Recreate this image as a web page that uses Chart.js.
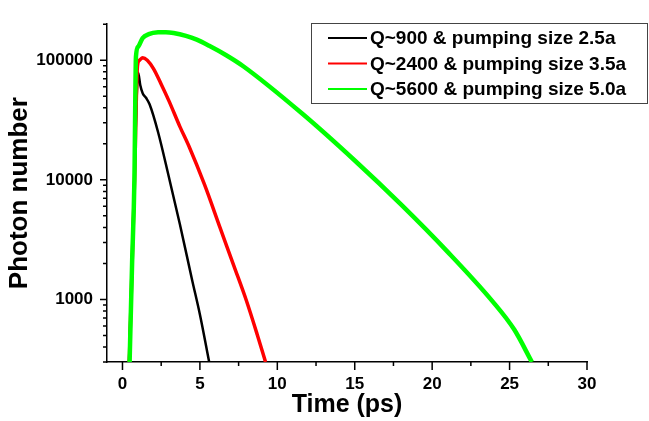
<!DOCTYPE html>
<html>
<head>
<meta charset="utf-8">
<script src="https://cdn.jsdelivr.net/npm/chart.js@4.4.1/dist/chart.umd.min.js"></script>
<style>
  html, body { margin: 0; padding: 0; background: #fff; }
</style>
</head>
<body>
<canvas id="chart" width="649" height="421"></canvas>
<script>
// Photon number vs time, three cavities
const seriesLabels = [
  'Q~900 & pumping size 2.5a',
  'Q~2400 & pumping size 3.5a',
  'Q~5600 & pumping size 5.0a',
];

const q900Time    = [0.42, 0.6, 0.76, 0.92, 1.01, 1.15, 1.31, 1.53, 1.75, 2.3, 3.0, 3.7, 4.5, 5.0, 5.6];
const q900Photons = [300, 1800, 10000, 50000, 79000, 61700, 52700, 48300, 42800, 25000, 10500, 4300, 1450, 750, 300];

const q2400Time    = [0.44, 0.62, 0.78, 0.97, 1.1, 1.3, 1.6, 2.0, 2.5, 3.0, 3.7, 4.3, 5.3, 6.3, 7.2, 8.0, 8.7, 9.24];
const q2400Photons = [300, 1900, 10000, 90000, 100000, 105000, 100000, 85000, 63000, 45700, 28000, 19000, 9100, 3980, 1900, 980, 510, 300];

const q5600Time    = [0.46, 0.62, 0.77, 0.87, 1.02, 1.3, 1.7, 2.3, 2.8, 3.3, 4.1, 4.8, 5.6, 6.7, 7.8, 11.6, 15, 18, 21, 23.9, 25.3, 26.44];
const q5600Photons = [300, 2000, 10000, 107000, 130000, 153000, 165000, 171000, 171500, 169000, 160000, 148500, 132000, 110000, 89000, 35800, 14500, 6200, 2500, 964, 560, 300];

const xTickValues = [0, 2.5, 5, 7.5, 10, 12.5, 15, 17.5, 20, 22.5, 25, 27.5, 30];
const yMajorTicks = [1000, 10000, 100000];
const yTickValues = [300, 400, 500, 600, 700, 800, 900,
  1000, 2000, 3000, 4000, 5000, 6000, 7000, 8000, 9000,
  10000, 20000, 30000, 40000, 50000, 60000, 70000, 80000, 90000,
  100000, 200000];

const toPoints = (ts, vs) => ts.map((t, i) => ({ x: t, y: vs[i] }));

Chart.defaults.font.family = "'Liberation Sans', Arial, sans-serif";
Chart.defaults.color = '#000';

// tick marks pointing outward, minor ones shorter
const tickMarks = {
  id: 'tickMarks',
  afterDraw(chart) {
    const { ctx, chartArea: a, scales: { x, y } } = chart;
    ctx.save();
    ctx.strokeStyle = '#000';
    ctx.lineWidth = 1.5;
    ctx.beginPath();
    x.ticks.forEach(t => {
      const px = x.getPixelForValue(t.value);
      const len = t.value % 5 === 0 ? 8 : 4;
      ctx.moveTo(px, a.bottom);
      ctx.lineTo(px, a.bottom + len);
    });
    y.ticks.forEach(t => {
      const py = y.getPixelForValue(t.value);
      const len = yMajorTicks.includes(t.value) ? 7 : 4;
      ctx.moveTo(a.left, py);
      ctx.lineTo(a.left - len, py);
    });
    ctx.stroke();
    ctx.restore();
  }
};

// boxed legend in the top right corner
const legendBox = {
  id: 'legendBox',
  afterDatasetsDraw(chart) {
    const ctx = chart.ctx;
    const rows = [38, 63.5, 89];
    ctx.save();
    ctx.fillStyle = '#fff';
    ctx.fillRect(311, 23, 337, 80);
    ctx.strokeStyle = '#444';
    ctx.lineWidth = 1;
    ctx.strokeRect(311.5, 23.5, 336, 80);
    ctx.font = "bold 19px 'Liberation Sans', Arial, sans-serif";
    ctx.textBaseline = 'middle';
    ctx.textAlign = 'left';
    chart.data.datasets.forEach((ds, i) => {
      ctx.strokeStyle = ds.borderColor;
      ctx.lineWidth = 1.8;
      ctx.beginPath();
      ctx.moveTo(328, rows[i]);
      ctx.lineTo(367, rows[i]);
      ctx.stroke();
      ctx.fillStyle = '#000';
      ctx.fillText(ds.label, 370, rows[i] + 1);
    });
    ctx.restore();
  }
};

new Chart(document.getElementById('chart'), {
  type: 'line',
  data: {
    datasets: [
      { label: seriesLabels[0], data: toPoints(q900Time, q900Photons), borderColor: '#000000', borderWidth: 2.5, order: 2 },
      { label: seriesLabels[1], data: toPoints(q2400Time, q2400Photons), borderColor: '#ff0000', borderWidth: 3.5, order: 1 },
      { label: seriesLabels[2], data: toPoints(q5600Time, q5600Photons), borderColor: '#00ff00', borderWidth: 4.5, order: 0 },
    ],
  },
  options: {
    responsive: false,
    animation: false,
    layout: { padding: { top: 11, right: 62, left: 0, bottom: 0 } },
    elements: {
      point: { radius: 0 },
      line: { cubicInterpolationMode: 'monotone', borderCapStyle: 'butt' },
    },
    datasets: { line: { clip: 0 } },
    plugins: {
      legend: { display: false },
      tooltip: { enabled: false },
    },
    scales: {
      x: {
        type: 'linear',
        min: -1,
        max: 30,
        afterBuildTicks: (s) => { s.ticks = xTickValues.map(v => ({ value: v })); },
        afterFit: (s) => { s.height = 59; },
        grid: { display: false, drawTicks: false },
        border: { display: true, color: '#000', width: 1.5 },
        ticks: {
          autoSkip: false,
          maxRotation: 0,
          padding: 12,
          font: { size: 17, weight: 'bold' },
          callback: (v) => (v % 5 === 0 ? String(v) : ''),
        },
        title: {
          display: true,
          text: 'Time (ps)',
          font: { size: 25, weight: 'bold' },
          padding: { top: 0, bottom: 1 },
        },
      },
      y: {
        type: 'logarithmic',
        min: 300,
        max: 200000,
        afterBuildTicks: (s) => { s.ticks = yTickValues.map(v => ({ value: v })); },
        afterFit: (s) => { s.width = 107; },
        grid: { display: false, drawTicks: false },
        border: { display: true, color: '#000', width: 1.5 },
        ticks: {
          autoSkip: false,
          padding: 14,
          font: { size: 17, weight: 'bold' },
          callback: (v) => (yMajorTicks.includes(v) ? String(v) : ''),
        },
        title: {
          display: true,
          text: 'Photon number',
          font: { size: 26, weight: 'bold' },
          padding: { top: 4, bottom: 0 },
        },
      },
    },
  },
  plugins: [tickMarks, legendBox],
});
</script>
</body>
</html>
